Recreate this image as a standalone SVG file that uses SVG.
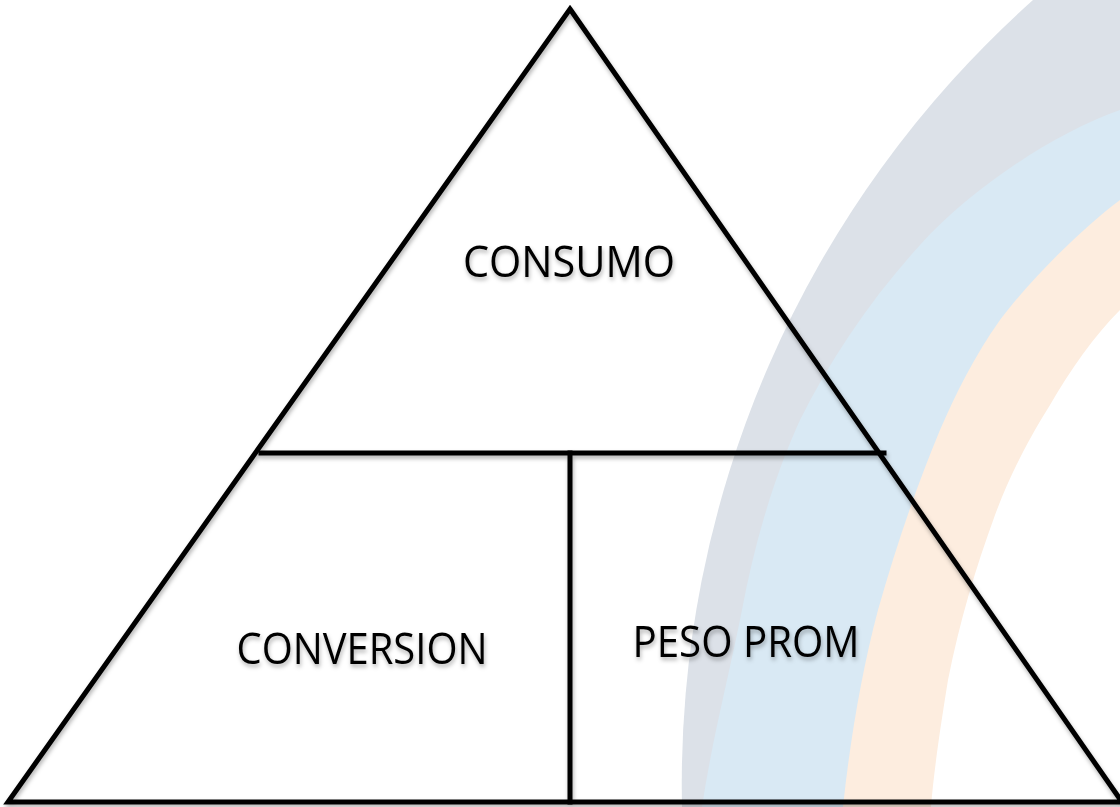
<svg xmlns="http://www.w3.org/2000/svg" width="1120" height="807" viewBox="0 0 1120 807">
<style>
.ln{stroke:#000;stroke-width:5;fill:none;stroke-linejoin:miter;stroke-linecap:square}
.lbl{font-family:"Open Sans","Liberation Sans",sans-serif;font-size:44px;fill:#000;text-anchor:middle}
</style>
<defs>
<filter id="sh" x="-5%" y="-5%" width="110%" height="120%">
<feDropShadow dx="1" dy="3" stdDeviation="2" flood-color="#000" flood-opacity="0.3"/>
</filter>
</defs>
<rect width="1120" height="807" fill="#fff"/>
<g id="background">
<path d="M1033,0 A1051,1051 0 0 0 682,807 L1120,807 L1120,0 Z" fill="#dce1e8"/>
<path d="M1120,110 C1050,135 970,190 920,245 C870,300 830,360 800,420 C775,475 755,540 742,610 C728,680 712,740 702,807 L1120,807 Z" fill="#d9e9f4"/>
<path d="M1120,200 C1080,230 1030,280 1000,320 C975,355 955,395 940,430 C915,490 895,550 878,610 C862,670 850,740 843,807 L1120,807 Z" fill="#fdeddf"/>
<path d="M1120,310 C1095,335 1070,370 1050,405 C1025,445 1008,480 995,515 C975,570 960,620 948,680 C940,730 934,770 931,807 L1120,807 Z" fill="#fff"/>
</g>
<g id="connectors" filter="url(#sh)">
<polygon class="ln" points="570,9 1122,802 8,802"/>
<line class="ln" x1="261" y1="453" x2="884" y2="453"/>
<line class="ln" x1="570" y1="453" x2="570" y2="802"/>
</g>
<g id="consumo" filter="url(#sh)">
<text class="lbl" x="569" y="277" textLength="212" lengthAdjust="spacingAndGlyphs">CONSUMO</text>
</g>
<g id="conversion" filter="url(#sh)">
<text class="lbl" x="362" y="664" textLength="251" lengthAdjust="spacingAndGlyphs">CONVERSION</text>
</g>
<g id="peso-prom" filter="url(#sh)">
<text class="lbl" x="746" y="657" textLength="227" lengthAdjust="spacingAndGlyphs">PESO PROM</text>
</g>
</svg>
